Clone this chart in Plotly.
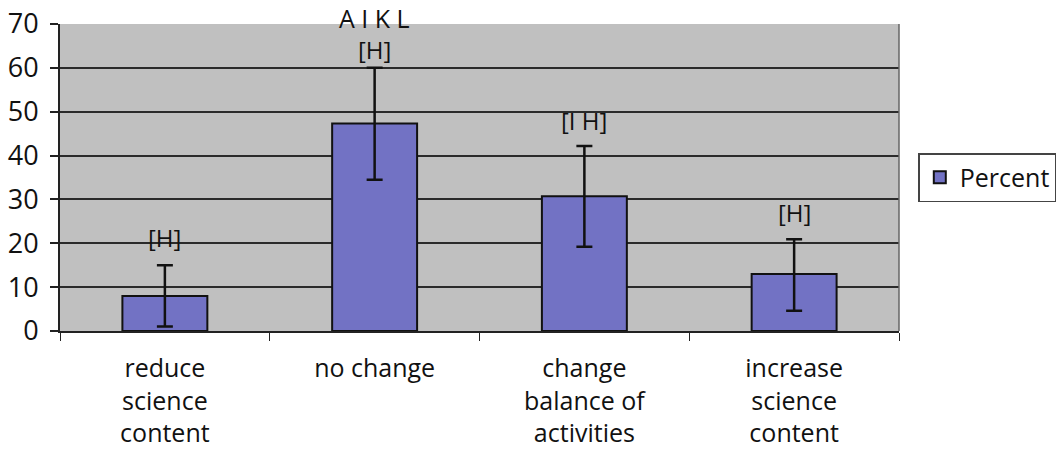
import plotly.graph_objects as go

categories = ["reduce<br>science<br>content", "no change", "change<br>balance of<br>activities", "increase<br>science<br>content"]
percent = [8, 47.3, 30.7, 13.0]
err_plus = [7, 12.7, 11.5, 7.9]
err_minus = [7, 12.8, 11.5, 8.4]
sig_labels = ["[H]", "[H]", "[I H]", "[H]"]
sig_label_y = [21.3, 64.1, 48.0, 27.0]
extra_label = "A I K L"
extra_label_y = 71.4
y_ticks = [0, 10, 20, 30, 40, 50, 60, 70]
y_max = 70

FONT = "Open Sans"

fig = go.Figure()
fig.add_trace(go.Bar(
    x=categories, y=percent, name="Percent",
    marker=dict(color="#7272c4", line=dict(color="#111111", width=2)),
    error_y=dict(type="data", symmetric=False, array=err_plus, arrayminus=err_minus,
                 color="#111111", thickness=2.5, width=8),
    showlegend=True,
))

annotations = []
for c, t, yy in zip(categories, sig_labels, sig_label_y):
    annotations.append(dict(x=c, y=yy, text=t, showarrow=False, yanchor="middle",
                            font=dict(family=FONT, size=24, color="#111111")))
annotations.append(dict(x=categories[1], xref="x", y=extra_label_y / y_max, yref="paper",
                        text=extra_label, showarrow=False, yanchor="middle",
                        font=dict(family=FONT, size=25, color="#111111")))

fig.update_layout(
    width=1057, height=454,
    margin=dict(l=60, r=158, t=24, b=123, pad=0, autoexpand=False),
    paper_bgcolor="white", plot_bgcolor="#c0c0c0",
    bargap=0.595,
    font=dict(family=FONT, color="#111111"),
    legend=dict(x=1.023, y=0.5, xanchor="left", yanchor="middle",
                bgcolor="white", bordercolor="#444444", borderwidth=1.5,
                font=dict(family=FONT, size=25, color="#111111")),
    annotations=annotations,
)
fig.update_yaxes(range=[0, y_max], tickvals=y_ticks, showgrid=True, gridcolor="#2a2a2a", gridwidth=1.5,
                 showline=True, linecolor="#222222", linewidth=2, mirror=False,
                 ticks="outside", ticklen=8, tickcolor="#222222", tickwidth=1.5,
                 ticklabelstandoff=6, automargin=False, ticklabeloverflow="allow",
                 tickfont=dict(family=FONT, size=27, color="#111111"), zeroline=False)
fig.update_xaxes(showline=True, linecolor="#222222", linewidth=2, automargin=False,
                 ticks="outside", tickson="boundaries", ticklen=8, tickcolor="#222222",
                 ticklabelstandoff=14, ticklabeloverflow="allow",
                 tickfont=dict(family=FONT, size=25, color="#111111"), showgrid=False)
# right border of plot area
fig.add_shape(type="line", xref="paper", yref="paper", x0=1, x1=1, y0=0, y1=1,
              line=dict(color="#666666", width=1.5))

fig.write_html("out.html", config={"displayModeBar": False},
               post_script="document.body.style.margin='0';document.body.style.overflow='hidden';")
